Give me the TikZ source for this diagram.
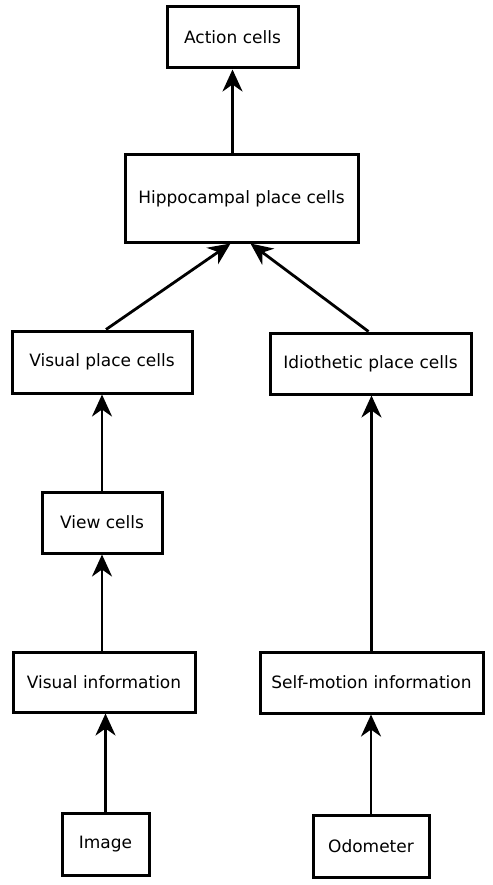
\documentclass[tikz,border=0pt]{standalone}
\usepackage{fontspec}
\setmainfont{DejaVu Sans}
\usepackage{tikz}
\usetikzlibrary{arrows.meta, positioning}

\begin{document}
\begin{tikzpicture}[
    x=1pt, y=-1pt,
    cell/.style={rectangle, draw, line width=3pt, align=center, font=\fontsize{17}{20}\selectfont, inner sep=0pt},
    arrow/.style={line width=2.8pt, -{Stealth[length=22pt, width=20pt, inset=7pt]}}
]
\useasboundingbox (0,0) rectangle (492,885);

\node[cell, minimum width=131, minimum height=61] (action) at (232.5,37.5) {Action cells};
\node[cell, minimum width=233, minimum height=87] (hippo) at (241.5,198.5) {Hippocampal place cells};
\node[cell, minimum width=180, minimum height=62] (vplace) at (102,362) {Visual place cells};
\node[cell, minimum width=201, minimum height=61] (idio) at (370.5,363.5) {Idiothetic place cells};
\node[cell, minimum width=120, minimum height=61] (view) at (102,522.5) {View cells};
\node[cell, minimum width=182, minimum height=60] (vinfo) at (104,682) {Visual information};
\node[cell, minimum width=223, minimum height=61] (self) at (371.5,682.5) {Self-motion information};
\node[cell, minimum width=87, minimum height=62] (image) at (105.5,844) {Image};
\node[cell, minimum width=116, minimum height=62] (odo) at (371,846) {Odometer};

\draw[arrow] (hippo.north -| action) -- (action.south);
\draw[arrow] ([xshift=4pt]vplace.north) -- ([xshift=-11pt]hippo.south);
\draw[arrow] ([xshift=-2pt]idio.north) -- ([xshift=9pt]hippo.south);
\draw[arrow] (view.north) -- (vplace.south);
\draw[arrow] (vinfo.north -| view) -- (view.south);
\draw[arrow] (self.north) -- (idio.south -| self);
\draw[arrow] (image.north) -- (vinfo.south -| image);
\draw[arrow] (odo.north) -- (self.south -| odo);

\end{tikzpicture}
\end{document}
